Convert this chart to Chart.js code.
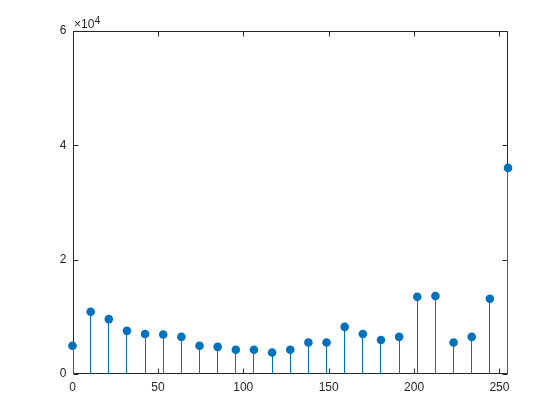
<!DOCTYPE html>
<html>
<head>
<meta charset="utf-8">
<script src="https://cdn.jsdelivr.net/npm/chart.js@4"></script>
<style>
html,body{margin:0;padding:0;background:#fff;}
#wrap{width:560px;height:420px;position:relative;}
</style>
</head>
<body>
<div id="wrap"><canvas id="c" width="560" height="420"></canvas></div>
<script>
const binCenters = [0,10.625,21.25,31.875,42.5,53.125,63.75,74.375,85,95.625,106.25,116.875,127.5,138.125,148.75,159.375,170,180.625,191.25,201.875,212.5,223.125,233.75,244.375,255];
const counts = [4950,10900,9600,7550,7000,6900,6500,4950,4750,4250,4250,3750,4250,5500,5500,8250,7000,5950,6500,13500,13650,5500,6500,13150,36050];
const xTicks = [0,50,100,150,200,250];
const yTicks = [0,20000,40000,60000];
const exponentLabel = '\u00d710';
const exponentPower = '4';

const stemColor = '#0072BD';
const axisColor = '#262626';
const pts = binCenters.map((x,i)=>({x:x,y:counts[i]}));

const boxPlugin = {
  id:'box',
  beforeDatasetsDraw(chart){
    const ctx = chart.ctx, a = chart.chartArea;
    const xs = chart.scales.x, ys = chart.scales.y;
    const L = Math.round(a.left)+0.5, R = Math.round(a.right)-0.5, T = Math.round(a.top)+0.5, B = Math.round(a.bottom)-0.5;
    ctx.save();
    // axes box with inward ticks
    ctx.strokeStyle = axisColor; ctx.lineWidth = 1;
    ctx.beginPath();
    ctx.rect(L,T,R-L,B-T);
    const tl = 5;
    xTicks.forEach(v=>{
      const p = Math.round(xs.getPixelForValue(v))+0.5;
      ctx.moveTo(p,B); ctx.lineTo(p,B-tl);
      ctx.moveTo(p,T); ctx.lineTo(p,T+tl);
    });
    yTicks.forEach(v=>{
      const p = Math.round(ys.getPixelForValue(v))+0.5;
      ctx.moveTo(L,p); ctx.lineTo(L+tl,p);
      ctx.moveTo(R,p); ctx.lineTo(R-tl,p);
    });
    ctx.stroke();
    // stems from baseline to each marker
    const meta = chart.getDatasetMeta(0);
    const y0 = ys.getPixelForValue(0);
    ctx.strokeStyle = stemColor; ctx.lineWidth = 1;
    ctx.beginPath();
    meta.data.forEach(el=>{
      const px = Math.min(R, Math.max(L, Math.floor(el.x) + 0.5));
      ctx.moveTo(px, y0); ctx.lineTo(px, el.y);
    });
    ctx.stroke();
    // exponent label
    ctx.fillStyle = axisColor;
    ctx.textBaseline = 'alphabetic';
    ctx.textAlign = 'left';
    ctx.font = '12px "Liberation Sans", Arial, sans-serif';
    const ex = a.left + 1.5, ey = a.top - 3.5;
    ctx.fillText(exponentLabel, ex, ey);
    const w = ctx.measureText(exponentLabel).width;
    ctx.font = '10px "Liberation Sans", Arial, sans-serif';
    ctx.fillText(exponentPower, ex + w + 0.5, ey - 3.5);
    ctx.restore();
  }
};

new Chart(document.getElementById('c'), {
  type:'scatter',
  data:{
    datasets:[
      {data:pts, backgroundColor:stemColor, borderColor:stemColor, pointRadius:4.3, pointHoverRadius:4.3, borderWidth:0, clip:false}
    ]
  },
  options:{
    responsive:false,
    animation:false,
    events:[],
    layout:{padding:{top:31,right:52,left:0,bottom:0}},
    plugins:{legend:{display:false},tooltip:{enabled:false}},
    scales:{
      x:{
        type:'linear', min:0, max:255, offset:false,
        afterBuildTicks(s){ s.ticks = xTicks.map(v=>({value:v})); },
        afterFit(s){ s.height = 46; },
        grid:{display:false, drawTicks:false},
        border:{display:false},
        ticks:{color:axisColor, padding:6, maxRotation:0, autoSkip:false,
          font:{family:'"Liberation Sans", Arial, sans-serif', size:12}}
      },
      y:{
        type:'linear', min:0, max:60000,
        afterBuildTicks(s){ s.ticks = yTicks.map(v=>({value:v})); },
        afterFit(s){ s.width = 72.5; },
        grid:{display:false, drawTicks:false},
        border:{display:false},
        ticks:{color:axisColor, padding:6, autoSkip:false,
          callback:(v)=>String(v/10000),
          font:{family:'"Liberation Sans", Arial, sans-serif', size:12}}
      }
    }
  },
  plugins:[boxPlugin]
});
</script>
</body>
</html>
